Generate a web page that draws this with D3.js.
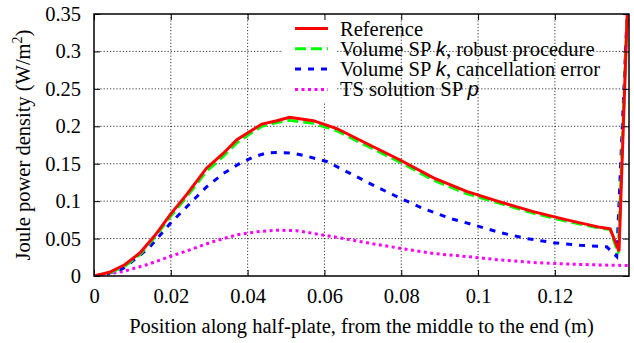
<!DOCTYPE html>
<html>
<head>
<meta charset="utf-8">
<script src="https://cdn.jsdelivr.net/npm/d3@7"></script>
<style>
  body { margin: 0; background: #fff; }
  text { font-family: "Liberation Serif", "Times New Roman", serif; fill: #000; }
</style>
</head>
<body>
<div id="plot"></div>
<script>
// tick values
var xTicks = [0, 0.02, 0.04, 0.06, 0.08, 0.1, 0.12];
var yTicks = [0, 0.05, 0.1, 0.15, 0.2, 0.25, 0.3, 0.35];

// series: [position (m), power density (W/m^2)]
var reference = [[0,0],[0.004,0.005],[0.008,0.015],[0.012,0.031],[0.016,0.055],[0.020,0.083],
    [0.024,0.108],[0.0293,0.144],[0.0337,0.164],[0.0372,0.182],[0.0406,0.193],[0.0437,0.203],
    [0.0476,0.2075],[0.0509,0.212],[0.0571,0.2075],[0.0632,0.197],[0.071,0.177],[0.0797,0.155],
    [0.0884,0.131],[0.097,0.113],[0.1057,0.099],[0.1144,0.086],[0.1231,0.075],[0.1318,0.065],
    [0.1344,0.063],[0.1367,0.033],[0.1389,0.36]];
var robust = [[0,0],[0.004,0.004],[0.008,0.013],[0.012,0.029],[0.016,0.053],[0.020,0.080],
    [0.024,0.105],[0.0293,0.140],[0.0337,0.160],[0.0372,0.178],[0.0406,0.190],[0.0437,0.200],
    [0.0476,0.205],[0.0509,0.208],[0.0571,0.204],[0.0632,0.194],[0.071,0.174],[0.0797,0.152],
    [0.0884,0.128],[0.097,0.110],[0.1057,0.097],[0.1144,0.084],[0.1231,0.073],[0.1318,0.064],
    [0.1344,0.062],[0.1365,0.030],[0.1389,0.36]];
var cancellation = [[0,0],[0.004,0.004],[0.0076,0.010],[0.0111,0.024],[0.0146,0.039],[0.0198,0.070],
    [0.025,0.097],[0.0293,0.119],[0.0337,0.137],[0.038,0.1505],[0.0415,0.159],[0.045,0.1645],
    [0.0484,0.165],[0.0519,0.164],[0.0554,0.160],[0.0606,0.153],[0.0667,0.137],[0.0736,0.119],
    [0.0797,0.104],[0.0858,0.090],[0.0927,0.077],[0.0997,0.067],[0.1057,0.058],[0.1127,0.050],
    [0.1196,0.0445],[0.1266,0.041],[0.1335,0.039],[0.1361,0.026],[0.1389,0.36]];
var tsSolution = [[0,0],[0.0076,0.006],[0.0137,0.015],[0.0198,0.026],[0.025,0.035],[0.031,0.046],
    [0.0372,0.055],[0.0424,0.059],[0.0476,0.0612],[0.0528,0.0605],[0.0623,0.0525],[0.071,0.0445],
    [0.0797,0.037],[0.0884,0.030],[0.097,0.026],[0.1057,0.0215],[0.1144,0.018],[0.1231,0.016],
    [0.1318,0.0147],[0.1393,0.014]];

var series = [
    {data: reference, color: "#ff0000", dash: null, label: ["Reference"]},
    {data: robust, color: "#00ff00", dash: "11,5", label: ["Volume SP ", "k", ", robust procedure"]},
    {data: cancellation, color: "#0000ff", dash: "6,7", label: ["Volume SP ", "k", ", cancellation error"]},
    {data: tsSolution, color: "#ff00ff", dash: "3,3.5", label: ["TS solution SP ", "p"]}
];

var svgwidth = 634, svgheight = 343;
var padLeft = 94, padRight = 629, padTop = 14, padBottom = 276;
var fontSize = 20.5;

var svg = d3.select("#plot").append("svg")
    .attr("width", svgwidth)
    .attr("height", svgheight);

var xScale = d3.scaleLinear().domain([0, 0.1393]).range([padLeft, padRight]);
var yScale = d3.scaleLinear().domain([0, 0.35]).range([padBottom, padTop]);

// grid
svg.append("g").selectAll("line")
    .data(xTicks.slice(1)).enter().append("line")
    .attr("x1", d => xScale(d)).attr("x2", d => xScale(d))
    .attr("y1", padTop).attr("y2", padBottom)
    .attr("stroke", "#000").attr("stroke-width", 0.8)
    .attr("stroke-dasharray", "1.2,2");
svg.append("g").selectAll("line")
    .data(yTicks.slice(1, -1)).enter().append("line")
    .attr("x1", padLeft).attr("x2", padRight)
    .attr("y1", d => yScale(d)).attr("y2", d => yScale(d))
    .attr("stroke", "#000").attr("stroke-width", 0.8)
    .attr("stroke-dasharray", "1.2,2");

// key area is kept clear of grid
svg.append("rect")
    .attr("x", 283).attr("y", padTop + 3)
    .attr("width", 53).attr("height", 85)
    .attr("fill", "#fff");

// curves
svg.append("clipPath").attr("id", "clip")
    .append("rect").attr("x", padLeft).attr("y", padTop)
    .attr("width", padRight - padLeft).attr("height", padBottom - padTop);

var line = d3.line()
    .x(d => xScale(d[0]))
    .y(d => yScale(d[1]));

var curves = svg.append("g").attr("clip-path", "url(#clip)");
series.slice().reverse().forEach(function (s) {
    curves.append("path")
        .attr("d", line(s.data))
        .attr("fill", "none")
        .attr("stroke", s.color)
        .attr("stroke-width", 3)
        .attr("stroke-dasharray", s.dash);
});

// axes: inward ticks on all four sides
var tickLen = -6;
svg.append("g").attr("transform", "translate(0," + padBottom + ")")
    .call(d3.axisBottom(xScale).tickValues(xTicks).tickSize(tickLen).tickPadding(12).tickFormat(d3.format("")))
    .call(g => g.select(".domain").remove());
svg.append("g").attr("transform", "translate(0," + padTop + ")")
    .call(d3.axisTop(xScale).tickValues(xTicks).tickSize(tickLen).tickFormat(""))
    .call(g => g.select(".domain").remove());
svg.append("g").attr("transform", "translate(" + padLeft + ",0)")
    .call(d3.axisLeft(yScale).tickValues(yTicks).tickSize(tickLen).tickPadding(13).tickFormat(d3.format("")))
    .call(g => g.select(".domain").remove());
svg.append("g").attr("transform", "translate(" + padRight + ",0)")
    .call(d3.axisRight(yScale).tickValues(yTicks).tickSize(tickLen).tickFormat(""))
    .call(g => g.select(".domain").remove());

svg.selectAll(".tick text")
    .attr("font-family", "Liberation Serif")
    .attr("font-size", fontSize);
svg.selectAll(".tick line").attr("stroke", "#000").attr("stroke-width", 1);

svg.append("rect")
    .attr("x", padLeft).attr("y", padTop)
    .attr("width", padRight - padLeft).attr("height", padBottom - padTop)
    .attr("fill", "none").attr("stroke", "#000").attr("stroke-width", 1.5);

// key
series.forEach(function (s, i) {
    var ky = 28.5 + i * 20.3;
    svg.append("line")
        .attr("x1", 295).attr("x2", 328)
        .attr("y1", ky).attr("y2", ky)
        .attr("stroke", s.color)
        .attr("stroke-width", 3)
        .attr("stroke-dasharray", s.dash);
    var t = svg.append("text")
        .attr("x", 340).attr("y", ky + 7)
        .attr("font-size", fontSize);
    s.label.forEach(function (part, j) {
        var span = t.append("tspan").text(part);
        if (j === 1) span.attr("font-family", "Liberation Sans").attr("font-style", "italic");
    });
});

// axis titles
svg.append("text")
    .attr("x", (padLeft + padRight) / 2).attr("y", 333)
    .attr("text-anchor", "middle")
    .attr("font-size", fontSize)
    .text("Position along half-plate, from the middle to the end (m)");

var yl = svg.append("text")
    .attr("transform", "translate(30," + ((padTop + padBottom) / 2) + ") rotate(-90)")
    .attr("text-anchor", "middle")
    .attr("font-size", fontSize);
yl.append("tspan").text("Joule power density (W/m");
yl.append("tspan").attr("dy", -8).attr("font-size", 14).text("2");
yl.append("tspan").attr("dy", 8).text(")");
</script>
</body>
</html>
